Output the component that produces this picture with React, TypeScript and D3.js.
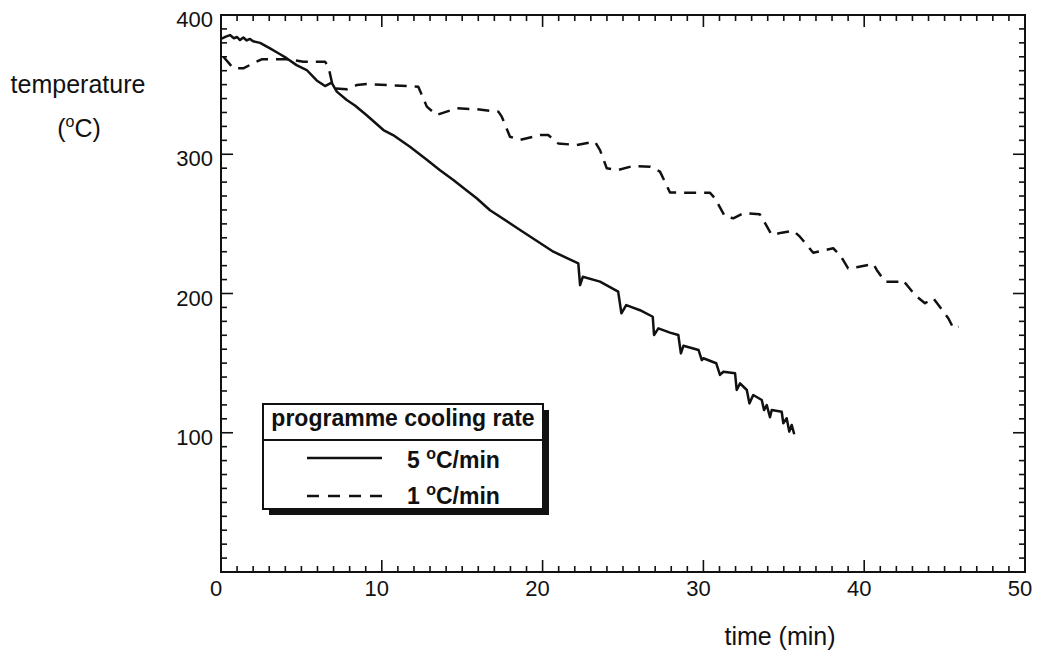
import React from "react";
import * as d3 from "d3";

// 5 °C/min programme (solid)
const solidTime = [0.04, 0.3, 0.56, 0.8, 1.0, 1.18, 1.39, 1.6, 1.8, 2.0, 2.43, 3.05, 3.57, 4.08, 4.7, 5.33, 5.95, 6.47, 6.88, 7.2, 7.82, 8.33, 9.06, 10.1, 10.7, 11.75, 12.8, 13.6, 14.45, 15.28, 15.9, 16.73, 18.6, 20.67, 22.22, 22.33, 22.5, 23.57, 24.7, 24.9, 25.2, 26.06, 26.85, 26.93, 27.2, 27.92, 28.44, 28.6, 28.76, 29.7, 29.9, 30.0, 30.8, 31.03, 31.24, 31.97, 32.07, 32.28, 32.7, 32.86, 33.1, 33.63, 33.77, 33.94, 34.14, 34.25, 34.87, 34.97, 35.18, 35.34, 35.49, 35.65];
const solidTemp = [383, 384.5, 385.6, 383.3, 384.2, 382, 383.8, 381.7, 382.8, 381.1, 380, 376, 372.5, 369, 364, 360.5, 353, 349, 351.4, 345, 339, 335, 328, 317.4, 313.8, 305.4, 296, 288.7, 281.5, 274, 268.4, 259.8, 245.6, 230, 221.7, 206, 212, 208.5, 201.3, 185.8, 191.7, 188, 183.3, 170.2, 175, 171.9, 170.2, 157, 162.5, 159.4, 152.2, 153.5, 149.9, 141.5, 143.8, 142.7, 130.7, 135.5, 130.7, 121.1, 127.1, 123.5, 116.3, 119.9, 111.1, 116.3, 115.1, 106.8, 110.4, 100.8, 105.6, 98.9];

// 1 °C/min programme (dashed)
const dashTime = [0.15, 0.77, 1.39, 2.0, 2.53, 4.08, 5.12, 6.47, 6.68, 6.98, 7.82, 8.44, 9.06, 12.27, 12.8, 13.4, 14.66, 15.9, 17.25, 17.46, 17.97, 18.6, 19.84, 20.35, 20.97, 22.1, 23.26, 23.57, 23.99, 24.7, 25.64, 26.7, 27.3, 27.6, 27.92, 28.8, 30.4, 30.72, 31.34, 31.86, 32.48, 33.5, 33.72, 34.25, 34.87, 35.6, 36.0, 36.83, 38.07, 38.5, 39.0, 39.53, 40.57, 40.78, 41.3, 42.2, 42.4, 43.16, 43.78, 44.3, 44.7, 45.23, 45.55, 45.86];
const dashTemp = [370, 361.7, 361.7, 365.3, 368.2, 368.2, 366.5, 366.5, 362.9, 347.3, 346.6, 349.7, 350.4, 348.5, 334.2, 328.2, 333, 332.3, 330.6, 327, 312.6, 310.3, 313.8, 313.8, 307.8, 306.6, 309, 303, 289.9, 288.7, 291.6, 291, 287.5, 280.3, 272.5, 272.4, 272.4, 268.4, 255.2, 254, 257.6, 257, 252.8, 242, 243.7, 245.1, 240.8, 229.3, 232.5, 227.6, 218.1, 218.8, 221.2, 216.9, 208.5, 208.5, 209.7, 198.9, 193, 196.6, 190.5, 182.2, 175, 176.2];

const xTickLabels = [0, 10, 20, 30, 40, 50];
const yTickLabels = [100, 200, 300, 400];
const legendTitle = "programme cooling rate";
const legendRates = ["5", "1"];

const W = 1041;
const H = 656;
const L = 221, R = 1025, T = 15, B = 572;
const FONT = "'Liberation Sans', Arial, Helvetica, sans-serif";

export default function App() {
  const x = d3.scaleLinear().domain([0, 50]).range([L, R]);
  const y = d3.scaleLinear().domain([0, 400]).range([B, T]);
  const line = d3.line<[number, number]>().x((d) => x(d[0])).y((d) => y(d[1]));
  const solidPts = solidTime.map((t, i) => [t, solidTemp[i]] as [number, number]);
  const dashPts = dashTime.map((t, i) => [t, dashTemp[i]] as [number, number]);

  const xMinor = d3.range(0, 51, 1);
  const yMinor = d3.range(0, 401, 10);

  const lgX = 263, lgY = 404, lgW = 280, lgH = 105;

  return (
    <svg width={W} height={H} style={{ position: "absolute", left: 0, top: 0, background: "#fff" }} fontFamily={FONT}>
      <rect x={0} y={0} width={W} height={H} fill="#fff" />
      {/* ticks */}
      <g stroke="#111" strokeWidth={1.6}>
        {xMinor.map((v) => {
          const len = v % 10 === 0 ? 12 : 6;
          return (
            <g key={"x" + v}>
              <line x1={x(v)} x2={x(v)} y1={B} y2={B - len} />
              <line x1={x(v)} x2={x(v)} y1={T} y2={T + len} />
            </g>
          );
        })}
        {yMinor.map((v) => {
          const len = v % 100 === 0 ? 12 : 6;
          return (
            <g key={"y" + v}>
              <line x1={L} x2={L + len} y1={y(v)} y2={y(v)} />
              <line x1={R} x2={R - len} y1={y(v)} y2={y(v)} />
            </g>
          );
        })}
      </g>
      <rect x={L} y={T} width={R - L} height={B - T} fill="none" stroke="#111" strokeWidth={2} />
      {/* tick labels */}
      <g fontSize={22} fill="#111">
        {xTickLabels.map((v) => (
          <text key={"xl" + v} x={x(v) - 5} y={596} textAnchor="middle">{v}</text>
        ))}
        {yTickLabels.map((v) => (
          <text key={"yl" + v} x={L - 8} y={y(v) + 12} textAnchor="end">{v}</text>
        ))}
      </g>
      {/* axis titles */}
      <text x={78} y={93} fontSize={25} textAnchor="middle" fill="#111">temperature</text>
      <text x={79} y={137} fontSize={25} textAnchor="middle" fill="#111">
        (<tspan fontSize={16} dy={-10}>o</tspan><tspan dy={10}>C)</tspan>
      </text>
      <text x={780} y={645} fontSize={25} textAnchor="middle" fill="#111">time (min)</text>
      {/* data lines */}
      <path d={line(solidPts) || ""} fill="none" stroke="#111" strokeWidth={2.5} strokeLinejoin="round" />
      <path d={line(dashPts) || ""} fill="none" stroke="#111" strokeWidth={2.5} strokeDasharray="12,8" strokeLinejoin="round" />
      {/* legend */}
      <rect x={lgX + 6} y={lgY + 6} width={lgW} height={lgH} fill="#111" />
      <rect x={lgX} y={lgY} width={lgW} height={lgH} fill="#fff" stroke="#111" strokeWidth={2} />
      <line x1={lgX} x2={lgX + lgW} y1={440} y2={440} stroke="#111" strokeWidth={2} />
      <text x={lgX + lgW / 2} y={426} fontSize={23} fontWeight="bold" textAnchor="middle" fill="#111">{legendTitle}</text>
      <line x1={307} x2={382} y1={458} y2={458} stroke="#111" strokeWidth={2.5} />
      <line x1={307} x2={382} y1={496} y2={496} stroke="#111" strokeWidth={2.5} strokeDasharray="12,9" />
      {legendRates.map((r, i) => (
        <text key={r} x={407} y={468 + i * 36} fontSize={23} fontWeight="bold" fill="#111">
          {r + " "}<tspan fontSize={16} dy={-9}>o</tspan><tspan dy={9}>C/min</tspan>
        </text>
      ))}
    </svg>
  );
}
